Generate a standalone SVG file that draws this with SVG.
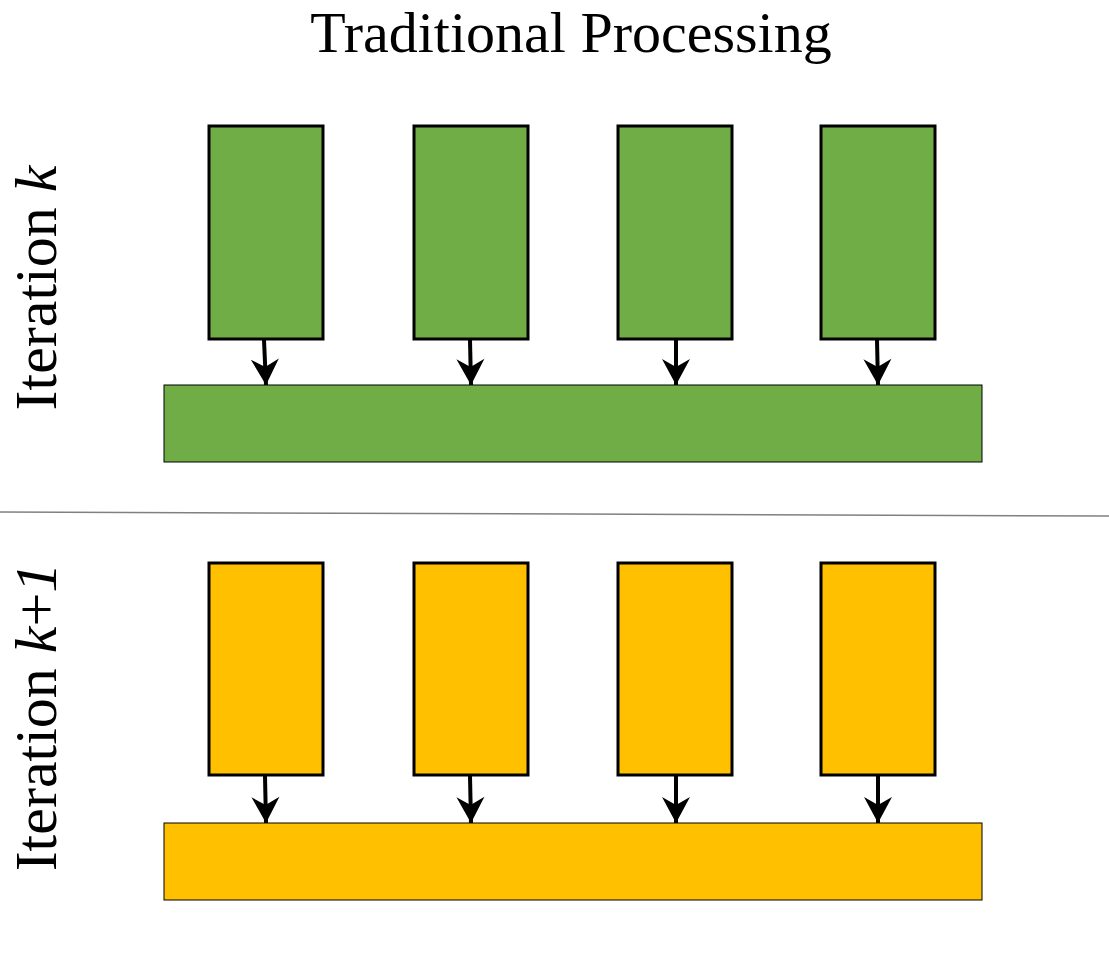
<svg xmlns="http://www.w3.org/2000/svg" width="1109" height="953" viewBox="0 0 1109 953">
<style>
text{font-family:"Liberation Serif","DejaVu Serif",serif;fill:#000}
.t{font-size:58px}
.lab{font-size:60px}
.g{fill:#70AD47;stroke:#000;stroke-width:3}
.y{fill:#FFC000;stroke:#000;stroke-width:3}
.gb{fill:#70AD47;stroke:#000;stroke-width:1}
.yb{fill:#FFC000;stroke:#000;stroke-width:1}
.c line{stroke:#000;stroke-width:4;marker-end:url(#ah)}
</style>
<defs>
<marker id="ah" markerUnits="userSpaceOnUse" markerWidth="30" markerHeight="30" refX="27" refY="15" orient="auto" viewBox="0 0 30 30">
<path d="M1,1 L27,15 L1,29 L9,15 Z" fill="#000"/>
</marker>
</defs>
<rect width="1109" height="953" fill="#fff"/>
<text class="t" x="571" y="52" text-anchor="middle">Traditional Processing</text>
<line x1="0" y1="512" x2="1109" y2="516" stroke="#808080" stroke-width="1.5"/>
<text class="lab" transform="translate(56,288) rotate(-90)" text-anchor="middle">Iteration <tspan font-style="italic">k</tspan></text>
<text class="lab" transform="translate(56,717) rotate(-90)" text-anchor="middle">Iteration <tspan font-style="italic">k</tspan>+<tspan font-style="italic">1</tspan></text>
<g id="k-bar"><rect class="gb" x="164" y="385" width="818" height="77"/></g>
<g id="k-b1"><rect class="g" x="209" y="126" width="114" height="213"/></g>
<g id="k-b2"><rect class="g" x="414" y="126" width="114" height="213"/></g>
<g id="k-b3"><rect class="g" x="618" y="126" width="114" height="213"/></g>
<g id="k-b4"><rect class="g" x="821" y="126" width="114" height="213"/></g>
<g id="k1-bar"><rect class="yb" x="164" y="823" width="818" height="77"/></g>
<g id="k1-b1"><rect class="y" x="209" y="563" width="114" height="212"/></g>
<g id="k1-b2"><rect class="y" x="414" y="563" width="114" height="212"/></g>
<g id="k1-b3"><rect class="y" x="618" y="563" width="114" height="212"/></g>
<g id="k1-b4"><rect class="y" x="821" y="563" width="114" height="212"/></g>
<g id="connectors" class="c">
<line x1="264" y1="340" x2="266" y2="385"/>
<line x1="470" y1="340" x2="471" y2="385"/>
<line x1="676" y1="340" x2="676" y2="385"/>
<line x1="877" y1="340" x2="878" y2="385"/>
<line x1="265" y1="776" x2="266" y2="823"/>
<line x1="470" y1="776" x2="471" y2="823"/>
<line x1="676" y1="776" x2="676" y2="823"/>
<line x1="878" y1="776" x2="878" y2="823"/>
</g>
</svg>
